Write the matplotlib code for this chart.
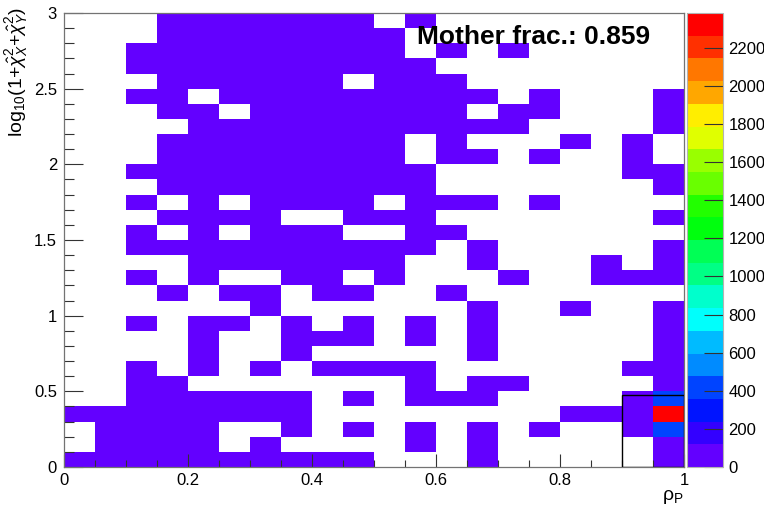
import numpy as np
import matplotlib
matplotlib.use('Agg')
import matplotlib.pyplot as plt
from matplotlib.colors import ListedColormap, BoundaryNorm
from matplotlib.patches import Rectangle
from matplotlib.ticker import MultipleLocator
import colorsys

plt.rcParams['font.family'] = ['Liberation Sans', 'DejaVu Sans']
plt.rcParams['mathtext.fontset'] = 'custom'
plt.rcParams['mathtext.rm'] = 'Liberation Sans'
plt.rcParams['mathtext.it'] = 'Liberation Sans:italic'
plt.rcParams['mathtext.bf'] = 'Liberation Sans:bold'

# ---------------- data ----------------
x_edges = np.linspace(0.0, 1.0, 21)   # rho_P bins
y_edges = np.linspace(0.0, 3.0, 31)   # log10(1+chi2) bins

# occupancy map: first string = top row (2.9-3.0), last = bottom row (0-0.1)
# '.' empty bin, '1' low-count bin, letters = high-count bins
occupancy_rows = [
    "...1111111.1........",
    "...11111111.........",
    "..111111111.1.1.....",
    "..1111111111........",
    "...111111.111.......",
    "..11.111111111.1...1",
    "...11.1111111.11...1",
    "....11111111111....1",
    "...11111111.1...1.1.",
    "...11111111.11.1..1.",
    "..1111111111......11",
    "...111111111.......1",
    "..1.1.1111.111.1....",
    "...1111..111.......1",
    "..1.1.111..11.......",
    "..1111111111.1.....1",
    "....1111111..1...1.1",
    "..1.1..11.1...1..111",
    "...1.11.11..1.......",
    "......1......1..1..1",
    "..1.11.1.1.1.1.....1",
    "....1..111.1.1.....1",
    "....1..1.....1.....1",
    "..1.1.1.1111......11",
    "..11.......1.11....1",
    "..111111.1.111....1B",
    "11111111........111R",
    ".1111..1.1.1.1.1..1C",
    ".1111.1....1.1.....1",
    "1111111111...1.....1",
]
low_count = 60
special_counts = {'R': 2383, 'B': 430, 'C': 410}
z_max = 2383
n_contours = 20
cbar_ticks = list(range(0, 2201, 200))
box_x = (0.9, 1.0)
box_y = (0.0, 0.476)
label_text = "Mother frac.: 0.859"

# ---------------- build histogram ----------------
ny, nx = len(occupancy_rows), len(occupancy_rows[0])
counts = np.zeros((ny, nx))
for i, row in enumerate(occupancy_rows):
    r = ny - 1 - i
    for c, ch in enumerate(row):
        if ch == '1':
            counts[r, c] = low_count
        elif ch in special_counts:
            counts[r, c] = special_counts[ch]
counts = np.ma.masked_where(counts <= 0, counts)

# ROOT "pretty" palette (50 colours) sampled for 20 contours
pal = []
for i in range(n_contours):
    idx = min(int((i + 0.99) * 50 / n_contours), 49)
    hue = 280.0 - (idx + 1) * 280.0 / 50
    pal.append(colorsys.hls_to_rgb(hue / 360.0, 0.5, 1.0))
cmap = ListedColormap(pal)
levels = np.linspace(0, z_max, n_contours + 1)
norm = BoundaryNorm(levels, n_contours)

# ---------------- figure ----------------
W, H = 764, 509
fig = plt.figure(figsize=(W / 100, H / 100), dpi=100)
ax = fig.add_axes([64 / W, 1 - 467 / H, 620 / W, 454 / H])
cax = fig.add_axes([687 / W, 1 - 467 / H, 36 / W, 454 / H])

mesh = ax.pcolormesh(x_edges, y_edges, counts, cmap=cmap, norm=norm,
                     edgecolors='none', antialiased=False)
ax.set_xlim(0, 1)
ax.set_ylim(0, 3)

ax.add_patch(Rectangle((box_x[0], box_y[0]), box_x[1] - box_x[0],
                       box_y[1] - box_y[0], fill=False, edgecolor='black',
                       linewidth=1.0, zorder=5))

ax.xaxis.set_major_locator(MultipleLocator(0.2))
ax.xaxis.set_minor_locator(MultipleLocator(0.05))
ax.yaxis.set_major_locator(MultipleLocator(0.5))
ax.yaxis.set_minor_locator(MultipleLocator(0.1))
ax.set_xticks([0, 0.2, 0.4, 0.6, 0.8, 1.0])
ax.set_xticklabels(['0', '0.2', '0.4', '0.6', '0.8', '1'])
ax.set_yticks([0, 0.5, 1, 1.5, 2, 2.5, 3])
ax.set_yticklabels(['0', '0.5', '1', '1.5', '2', '2.5', '3'])
ax.tick_params(axis='x', which='major', direction='in', length=9.5, width=0.8,
               labelsize=12, pad=4, color='0.2')
ax.tick_params(axis='x', which='minor', direction='in', length=5, width=0.8, color='0.2')
ax.tick_params(axis='y', which='major', direction='in', length=13.5, width=0.8,
               labelsize=12, pad=5, color='0.2')
ax.tick_params(axis='y', which='minor', direction='in', length=7, width=0.8, color='0.2')
for s in ax.spines.values():
    s.set_linewidth(0.9)
    s.set_color('0.45')

cb = fig.colorbar(mesh, cax=cax, ticks=cbar_ticks)
cb.outline.set_edgecolor('0.7')
cb.outline.set_linewidth(0.8)
cax.tick_params(direction='in', length=14, width=0.8, labelsize=12, pad=4, color='0.2')
cax.minorticks_off()

fig.text(417 / W, 1 - 37 / H, label_text, fontsize=19, fontweight='bold',
         ha='left', va='center')
fig.text(17 / W, 1 - 7 / H,
         r'log$_{10}$(1+$\hat{\chi}^{2}_{X}$+$\hat{\chi}^{2}_{Y}$)',
         rotation=90, ha='center', va='top', fontsize=14)
fig.text(684 / W, 1 - 497 / H, r'ρ$_{\mathrm{P}}$', ha='right', va='center',
         fontsize=14)

fig.savefig('out.png', dpi=100)
